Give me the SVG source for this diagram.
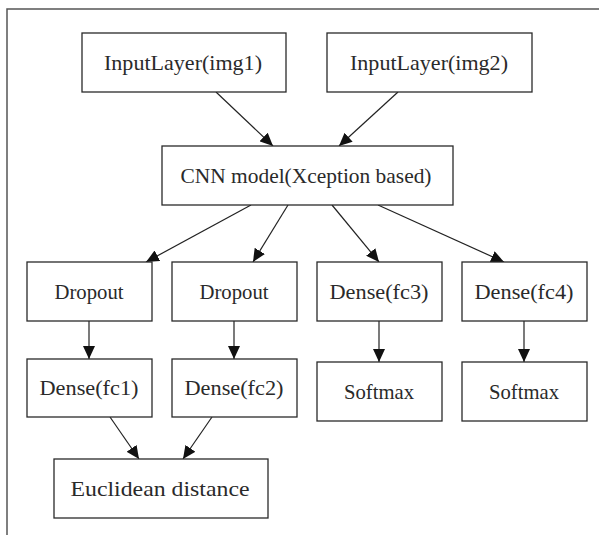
<svg xmlns="http://www.w3.org/2000/svg" width="599" height="535" viewBox="0 0 599 535">
  <style>
    .frame { fill: none; stroke: #555; stroke-width: 1.5; }
    .box { fill: #fff; stroke: #2a2a2a; stroke-width: 1.3; }
    .lbl { font-family: "Liberation Serif", "DejaVu Serif", serif; font-size: 21px; fill: #2a2a2a; text-anchor: middle; }
    .edge { fill: none; stroke: #222; stroke-width: 1.2; marker-end: url(#arrow); }
  </style>
  <defs>
    <marker id="arrow" markerUnits="userSpaceOnUse" markerWidth="14" markerHeight="12" refX="13" refY="6" orient="auto">
      <path d="M0,0 L13,6 L0,12 Z" fill="#111"/>
    </marker>
  </defs>

  <rect width="599" height="535" fill="#fff"/>
  <!-- outer frame: top and left edges only -->
  <path class="frame" d="M7,535 L7,9 L599,9"/>

  <g id="connectors">
    <line class="edge" x1="216" y1="92" x2="273" y2="146"/>
    <line class="edge" x1="398" y1="92" x2="339" y2="146"/>
    <line class="edge" x1="251" y1="205" x2="146" y2="262"/>
    <line class="edge" x1="288" y1="205" x2="253" y2="262"/>
    <line class="edge" x1="332" y1="205" x2="379" y2="262"/>
    <line class="edge" x1="378" y1="205" x2="504" y2="262"/>
    <line class="edge" x1="89" y1="321" x2="89" y2="359"/>
    <line class="edge" x1="234" y1="321" x2="234" y2="359"/>
    <line class="edge" x1="379" y1="321" x2="379" y2="362"/>
    <line class="edge" x1="524" y1="321" x2="524" y2="362"/>
    <line class="edge" x1="110" y1="417" x2="139" y2="459"/>
    <line class="edge" x1="212" y1="417" x2="183" y2="459"/>
  </g>

  <g id="input1">
    <rect class="box" x="82" y="33" width="204" height="59"/>
    <text class="lbl" x="183" y="69.5" textLength="158" lengthAdjust="spacingAndGlyphs">InputLayer(img1)</text>
  </g>
  <g id="input2">
    <rect class="box" x="327" y="33" width="205" height="59"/>
    <text class="lbl" x="429" y="69.5" textLength="158" lengthAdjust="spacingAndGlyphs">InputLayer(img2)</text>
  </g>
  <g id="cnn">
    <rect class="box" x="162" y="146" width="291" height="59"/>
    <text class="lbl" x="306" y="182.5" textLength="251" lengthAdjust="spacingAndGlyphs">CNN model(Xception based)</text>
  </g>
  <g id="dropout1">
    <rect class="box" x="27" y="262" width="125" height="59"/>
    <text class="lbl" x="89" y="298.5" textLength="69" lengthAdjust="spacingAndGlyphs">Dropout</text>
  </g>
  <g id="dropout2">
    <rect class="box" x="172" y="262" width="125" height="59"/>
    <text class="lbl" x="234" y="298.5" textLength="69" lengthAdjust="spacingAndGlyphs">Dropout</text>
  </g>
  <g id="fc3">
    <rect class="box" x="317" y="262" width="125" height="59"/>
    <text class="lbl" x="379" y="298.5" textLength="99" lengthAdjust="spacingAndGlyphs">Dense(fc3)</text>
  </g>
  <g id="fc4">
    <rect class="box" x="462" y="262" width="125" height="59"/>
    <text class="lbl" x="524" y="298.5" textLength="99" lengthAdjust="spacingAndGlyphs">Dense(fc4)</text>
  </g>
  <g id="fc1">
    <rect class="box" x="27" y="359" width="125" height="58"/>
    <text class="lbl" x="89" y="395" textLength="99" lengthAdjust="spacingAndGlyphs">Dense(fc1)</text>
  </g>
  <g id="fc2">
    <rect class="box" x="172" y="359" width="125" height="58"/>
    <text class="lbl" x="234" y="395" textLength="99" lengthAdjust="spacingAndGlyphs">Dense(fc2)</text>
  </g>
  <g id="softmax1">
    <rect class="box" x="317" y="362" width="125" height="59"/>
    <text class="lbl" x="379" y="399" textLength="70" lengthAdjust="spacingAndGlyphs">Softmax</text>
  </g>
  <g id="softmax2">
    <rect class="box" x="462" y="362" width="125" height="59"/>
    <text class="lbl" x="524" y="399" textLength="70" lengthAdjust="spacingAndGlyphs">Softmax</text>
  </g>
  <g id="euclid">
    <rect class="box" x="54" y="459" width="214" height="59"/>
    <text class="lbl" x="160" y="495.5" textLength="179" lengthAdjust="spacingAndGlyphs">Euclidean distance</text>
  </g>
</svg>
